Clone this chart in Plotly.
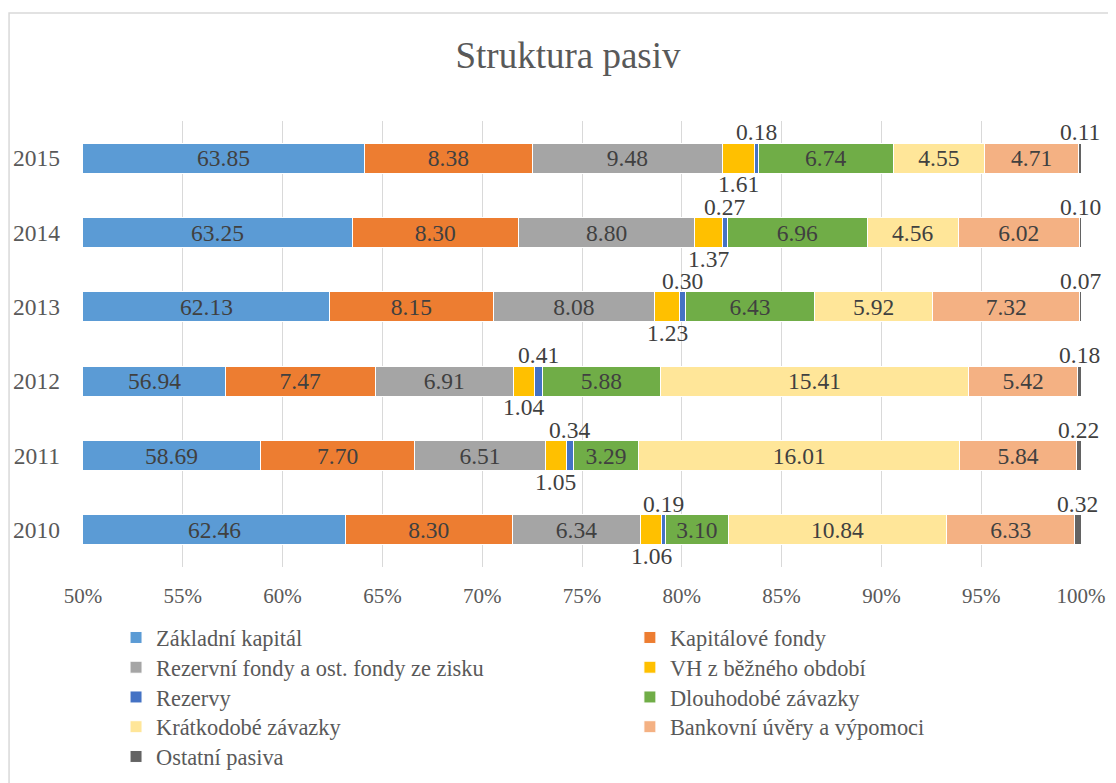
import numpy as np
import plotly.graph_objects as go

years = [2010, 2011, 2012, 2013, 2014, 2015]

zakladni = [62.46, 58.69, 56.94, 62.13, 63.25, 63.85]
kapitalove = [8.30, 7.70, 7.47, 8.15, 8.30, 8.38]
rezervni = [6.34, 6.51, 6.91, 8.08, 8.80, 9.48]
vh = [1.06, 1.05, 1.04, 1.23, 1.37, 1.61]
rezervy = [0.19, 0.34, 0.41, 0.30, 0.27, 0.18]
dlouhodobe = [3.10, 3.29, 5.88, 6.43, 6.96, 6.74]
kratkodobe = [10.84, 16.01, 15.41, 5.92, 4.56, 4.55]
bankovni = [6.33, 5.84, 5.42, 7.32, 6.02, 4.71]
ostatni = [0.32, 0.22, 0.18, 0.07, 0.10, 0.11]

series = [
    ("Základní kapitál", zakladni, "#5B9BD5"),
    ("Kapitálové fondy", kapitalove, "#ED7D31"),
    ("Rezervní fondy a ost. fondy ze zisku", rezervni, "#A5A5A5"),
    ("VH z běžného období", vh, "#FFC000"),
    ("Rezervy", rezervy, "#4472C4"),
    ("Dlouhodobé závazky", dlouhodobe, "#70AD47"),
    ("Krátkodobé závazky", kratkodobe, "#FFE699"),
    ("Bankovní úvěry a výpomoci", bankovni, "#F4B183"),
    ("Ostatní pasiva", ostatni, "#636363"),
]

FONT = "Liberation Serif, Times New Roman, serif"
TXT = "#404040"
GREY = "#595959"
LBL = 23.5

# labels drawn outside the bar: index -> vertical shift in px
outside = {3: -26, 4: 26, 8: 26}

vals = np.array([s[1] for s in series])
totals = vals.sum(axis=0)
cum = np.cumsum(vals, axis=0) / totals * 100

fig = go.Figure()
annotations = []
legends = {}
for i, (name, v, color) in enumerate(series):
    inside = i not in outside and i != 0
    lid = "legend" if i == 0 else f"legend{i + 1}"
    fig.add_trace(go.Bar(
        name=name, y=years, x=v, orientation="h", legend=lid,
        marker=dict(color=color, line=dict(color="white", width=1)),
        text=[f"{a:.2f}" for a in v] if inside else None,
        textposition="inside", insidetextanchor="middle", textangle=0,
        constraintext="none",
        textfont=dict(family=FONT, size=LBL, color=TXT),
        hoverinfo="name+text",
    ))
    # legend in two columns, one entry per legend box
    legends[lid] = dict(
        x=0.0331 if i % 2 == 0 else 0.548, xanchor="left",
        y=-0.159 - (i // 2) * 0.0667, yanchor="middle",
        font=dict(family=FONT, size=22.4, color=GREY),
        bgcolor="rgba(0,0,0,0)", itemwidth=30,
    )
    for j, yr in enumerate(years):
        start = cum[i - 1][j] if i > 0 else 0
        end = cum[i][j]
        if i == 0:
            # only the visible part (from 50 %) is shown
            annotations.append(dict(x=float((50 + end) / 2), y=yr, text=f"{v[j]:.2f}",
                                    showarrow=False, font=dict(family=FONT, size=LBL, color=TXT)))
        elif i in outside:
            annotations.append(dict(x=float((start + end) / 2), y=yr, text=f"{v[j]:.2f}",
                                    showarrow=False, yshift=outside[i],
                                    font=dict(family=FONT, size=LBL, color=TXT)))

fig.update_layout(
    barmode="stack", barnorm="percent", bargap=0.6,
    width=1116, height=783,
    paper_bgcolor="white", plot_bgcolor="white",
    margin=dict(l=75, r=43, t=113, b=224, autoexpand=False),
    title=dict(text="Struktura pasiv", x=0.5018, xref="container", xanchor="center",
               y=0.94, yref="container", yanchor="middle",
               font=dict(family=FONT, size=37, color=GREY)),
    font=dict(family=FONT, size=21, color=GREY),
    xaxis=dict(range=[50, 100], dtick=5, ticksuffix="%", showgrid=True,
               gridcolor="#D9D9D9", gridwidth=1, zeroline=False, showline=False,
               tickfont=dict(size=21, color=GREY), ticks="", ticklabelstandoff=14),
    yaxis=dict(range=[2009.5, 2015.5], tickvals=years, tickformat="d",
               showgrid=False, zeroline=False, showline=False, ticks="",
               tickfont=dict(size=LBL, color=GREY), ticklabelstandoff=22),
    annotations=annotations,
    showlegend=True,
    shapes=[dict(type="rect", xref="paper", yref="paper", x0=-0.0741, x1=1.2,
                 y0=-0.7, y1=1.242, line=dict(color="#D9D9D9", width=1.5), layer="below")],
    **legends,
)

fig.write_html("out.html")
